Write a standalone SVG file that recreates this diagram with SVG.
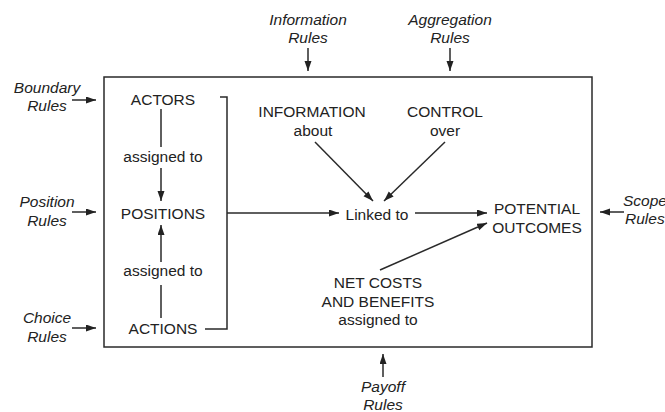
<svg xmlns="http://www.w3.org/2000/svg" width="665" height="412" viewBox="0 0 665 412">
<style>
text{font-family:"Liberation Sans",Arial,sans-serif;font-size:15.5px;fill:#222;text-anchor:middle}
.r{font-style:italic}
.s{text-anchor:start}
.ln{stroke:#2a2a2a;stroke-width:1.5;fill:none}
.ar{stroke:#2a2a2a;stroke-width:1.5;fill:none;marker-end:url(#ah)}
</style>
<defs>
<marker id="ah" markerUnits="userSpaceOnUse" markerWidth="11" markerHeight="8" refX="10" refY="3.5" orient="auto">
<path d="M0,0 L10,3.5 L0,7 z" fill="#222"/>
</marker>
</defs>
<rect x="0" y="0" width="665" height="412" fill="#fff"/>
<g id="frame"><rect x="104" y="77" width="488" height="270" class="ln"/></g>
<g id="information-rules"><text class="r" x="308" y="25">Information</text><text class="r" x="308" y="43">Rules</text></g>
<g id="aggregation-rules"><text class="r" x="450" y="25">Aggregation</text><text class="r" x="450" y="43">Rules</text></g>
<g id="boundary-rules"><text class="r" x="47" y="93">Boundary</text><text class="r" x="47" y="111">Rules</text></g>
<g id="position-rules"><text class="r" x="47" y="207">Position</text><text class="r" x="47" y="226">Rules</text></g>
<g id="choice-rules"><text class="r" x="47" y="323">Choice</text><text class="r" x="47" y="342">Rules</text></g>
<g id="scope-rules"><text class="r s" x="623" y="206">Scope</text><text class="r s" x="625" y="224">Rules</text></g>
<g id="payoff-rules"><text class="r" x="383" y="392">Payoff</text><text class="r" x="383" y="410">Rules</text></g>
<g id="actors"><text x="163" y="105">ACTORS</text></g>
<g id="assigned1"><text x="163" y="162">assigned to</text></g>
<g id="positions"><text x="163" y="219">POSITIONS</text></g>
<g id="assigned2"><text x="163" y="276">assigned to</text></g>
<g id="actions"><text x="163" y="334">ACTIONS</text></g>
<g id="information"><text x="312" y="117">INFORMATION</text><text x="313" y="136">about</text></g>
<g id="control"><text x="445" y="117">CONTROL</text><text x="445" y="136">over</text></g>
<g id="linked"><text x="377" y="220">Linked to</text></g>
<g id="outcomes"><text x="537" y="214">POTENTIAL</text><text x="537" y="233">OUTCOMES</text></g>
<g id="costs"><text x="378" y="288">NET COSTS</text><text x="378" y="307">AND BENEFITS</text><text x="378" y="325">assigned to</text></g>
<g id="connectors">
<line class="ar" x1="72" y1="100" x2="96" y2="100"/>
<line class="ar" x1="72" y1="212" x2="96" y2="212"/>
<line class="ar" x1="72" y1="328" x2="96" y2="328"/>
<line class="ar" x1="308" y1="48" x2="308" y2="71"/>
<line class="ar" x1="450" y1="48" x2="450" y2="71"/>
<line class="ar" x1="383" y1="377" x2="383" y2="354"/>
<line class="ar" x1="624" y1="212" x2="600" y2="212"/>
<line class="ln" x1="161" y1="109" x2="161" y2="147"/>
<line class="ar" x1="161" y1="168" x2="161" y2="201"/>
<line class="ln" x1="161" y1="318" x2="161" y2="285"/>
<line class="ar" x1="161" y1="262" x2="161" y2="225"/>
<polyline class="ln" points="220,97 227,97 227,329 205,329"/>
<line class="ar" x1="227" y1="213" x2="339" y2="213"/>
<line class="ar" x1="415" y1="213" x2="487" y2="213"/>
<line class="ar" x1="315" y1="142" x2="373" y2="201"/>
<line class="ar" x1="445" y1="142" x2="384" y2="201"/>
<line class="ar" x1="380" y1="270" x2="487" y2="223"/>
</g>
</svg>
